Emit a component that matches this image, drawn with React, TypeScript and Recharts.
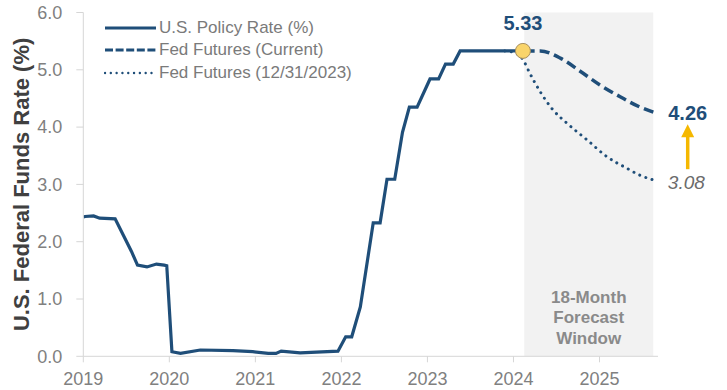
import React from 'react';
import { LineChart, Line, XAxis, YAxis, ReferenceArea, ReferenceDot, Legend } from 'recharts';

const FONT = "'Liberation Sans', Arial, sans-serif";
const NAVY = '#1f4e79';

// U.S. policy rate (decimal year, %)
const policyT = [2019.0, 2019.02, 2019.12, 2019.19, 2019.37, 2019.47, 2019.56, 2019.63, 2019.74, 2019.85, 2019.94, 2019.97, 2020.03, 2020.13, 2020.36, 2020.74, 2020.97, 2021.15, 2021.24, 2021.3, 2021.52, 2021.96, 2022.05, 2022.12, 2022.22, 2022.37, 2022.45, 2022.53, 2022.62, 2022.71, 2022.79, 2022.88, 2023.03, 2023.13, 2023.21, 2023.3, 2023.38, 2024.11];
const policyRate = [2.43, 2.44, 2.45, 2.41, 2.4, 2.1, 1.83, 1.59, 1.56, 1.61, 1.59, 1.58, 0.08, 0.05, 0.11, 0.1, 0.08, 0.05, 0.05, 0.09, 0.06, 0.09, 0.34, 0.34, 0.86, 2.33, 2.33, 3.09, 3.09, 3.91, 4.35, 4.35, 4.84, 4.84, 5.1, 5.1, 5.33, 5.33];

// Fed futures (current)
const currentT = [2024.13, 2024.31, 2024.55, 2024.78, 2025.01, 2025.24, 2025.47, 2025.63];
const currentRate = [5.33, 5.33, 5.2, 4.97, 4.73, 4.53, 4.35, 4.26];

// Fed futures (12/31/2023)
const decT = [2023.9, 2024.03, 2024.11, 2024.19, 2024.31, 2024.46, 2024.62, 2024.86, 2025.09, 2025.32, 2025.47, 2025.62];
const decRate = [5.33, 5.29, 5.18, 4.94, 4.62, 4.3, 4.07, 3.77, 3.48, 3.28, 3.16, 3.08];

const xTicks = [2019, 2020, 2021, 2022, 2023, 2024, 2025];
const yTicks = [0, 1, 2, 3, 4, 5, 6];
const forecastStart = 2024.125;
const forecastEnd = 2025.625;
const forecastLabel = ['18-Month', 'Forecast', 'Window'];
const lastPolicyT = 2024.11;
const lastPolicyRate = 5.33;

const legendItems = [
  { label: 'U.S. Policy Rate (%)', dash: undefined as string | undefined, cap: 'butt' },
  { label: 'Fed Futures (Current)', dash: '8 2.6', cap: 'butt' },
  { label: 'Fed Futures (12/31/2023)', dash: '0.01 5.8', cap: 'round' },
];

const policy = policyT.map((t, i) => ({ t, v: policyRate[i] }));
const current = currentT.map((t, i) => ({ t, v: currentRate[i] }));
const dec = decT.map((t, i) => ({ t, v: decRate[i] }));

const renderLegend = () => (
  <div style={{ fontFamily: FONT, fontSize: 17, color: '#7a7a7a' }}>
    {legendItems.map((it) => (
      <div key={it.label} style={{ display: 'flex', alignItems: 'center', height: 22.2, whiteSpace: 'nowrap' }}>
        <svg width={53} height={10} style={{ display: 'block' }}>
          <line x1={1} x2={52} y1={5} y2={5} stroke={NAVY} strokeWidth={it.cap === 'round' ? 2.4 : 3} strokeDasharray={it.dash} strokeLinecap={it.cap as any} />
        </svg>
        <span style={{ marginLeft: 2 }}>{it.label}</span>
      </div>
    ))}
  </div>
);

const CurrentEndLabel = (props: any) => {
  const { x, y, index, value } = props;
  if (index !== current.length - 1) return null;
  const ax = x + 34;
  return (
    <g>
      <text x={ax} y={y + 8} textAnchor="middle" fontFamily={FONT} fontSize={20} fontWeight="bold" fill={NAVY}>
        {Number(value).toFixed(2)}
      </text>
      <line x1={ax} x2={ax} y1={y + 57} y2={y + 22} stroke="#f5b800" strokeWidth={3.5} />
      <polygon points={`${ax - 6.5},${y + 25} ${ax + 6.5},${y + 25} ${ax},${y + 12}`} fill="#f5b800" />
    </g>
  );
};

const DecEndLabel = (props: any) => {
  const { x, y, index, value } = props;
  if (index !== dec.length - 1) return null;
  return (
    <text x={x + 15} y={y + 9} textAnchor="start" fontFamily={FONT} fontSize={19} fontStyle="italic" fill="#6b6b6b">
      {Number(value).toFixed(2)}
    </text>
  );
};

const BandLabel = (props: any) => {
  const vb = props.viewBox || {};
  const cx = vb.x + vb.width / 2;
  const bottom = vb.y + vb.height;
  const offs = [53, 33, 12];
  return (
    <g>
      {forecastLabel.map((s, i) => (
        <text key={s} x={cx} y={bottom - offs[i]} textAnchor="middle" fontFamily={FONT} fontSize={17} fontWeight="bold" fill="#8a8a8a">
          {s}
        </text>
      ))}
    </g>
  );
};

const YLabel = (props: any) => {
  const vb = props.viewBox || {};
  const cy = vb.y + vb.height / 2;
  return (
    <text x={29} y={cy} transform={`rotate(-90, 29, ${cy})`} textAnchor="middle" fontFamily={FONT} fontSize={22} fontWeight="bold" fill="#404040">
      U.S. Federal Funds Rate (%)
    </text>
  );
};

export default function App() {
  return (
    <div style={{ position: 'absolute', left: 0, top: 0, width: 727, height: 390, background: '#fff' }}>
      <LineChart width={727} height={390} margin={{ top: 12.5, right: 69, bottom: 3.7, left: 23.3 }}>
        <ReferenceArea x1={forecastStart} x2={forecastEnd} y1={0} y2={6} fill="#f2f2f2" fillOpacity={1} stroke="none" label={BandLabel} />
        <XAxis
          type="number"
          dataKey="t"
          domain={[2019, 2025.68]}
          allowDataOverflow
          ticks={xTicks}
          tickFormatter={(v: number) => String(v)}
          height={30}
          tickSize={6}
          tickMargin={10}
          axisLine={{ stroke: '#d6d6d6' }}
          tickLine={{ stroke: '#d6d6d6' }}
          tick={{ fill: '#808080', fontSize: 18, fontFamily: FONT }}
        />
        <YAxis
          type="number"
          domain={[0, 6]}
          ticks={yTicks}
          tickFormatter={(v: number) => v.toFixed(1)}
          width={60}
          tickSize={7}
          tickMargin={14}
          axisLine={{ stroke: '#d6d6d6' }}
          tickLine={{ stroke: '#d6d6d6' }}
          tick={{ fill: '#808080', fontSize: 18, fontFamily: FONT }}
          label={YLabel}
        />
        <Legend
          layout="horizontal"
          verticalAlign="middle"
          align="center"
          content={renderLegend}
          wrapperStyle={{ top: 17.2, left: 104, width: 'auto', height: 'auto' }}
        />
        <Line data={policy} dataKey="v" type="linear" stroke={NAVY} strokeWidth={3.2} dot={false} isAnimationActive={false} legendType="none" />
        <Line data={dec} dataKey="v" type="monotone" stroke={NAVY} strokeWidth={3} strokeDasharray="0.01 6.5" strokeLinecap="round" dot={false} isAnimationActive={false} label={DecEndLabel} />
        <Line data={current} dataKey="v" type="monotone" stroke={NAVY} strokeWidth={3.5} strokeDasharray="10 5" dot={false} isAnimationActive={false} label={CurrentEndLabel} />
        <ReferenceDot
          x={lastPolicyT}
          y={lastPolicyRate}
          r={7.5}
          fill="#f9d46a"
          stroke="#a89060"
          strokeWidth={1}
          label={{ value: lastPolicyRate.toFixed(2), position: 'top', offset: 13, fill: NAVY, fontSize: 20, fontWeight: 'bold', fontFamily: FONT }}
        />
      </LineChart>
    </div>
  );
}
